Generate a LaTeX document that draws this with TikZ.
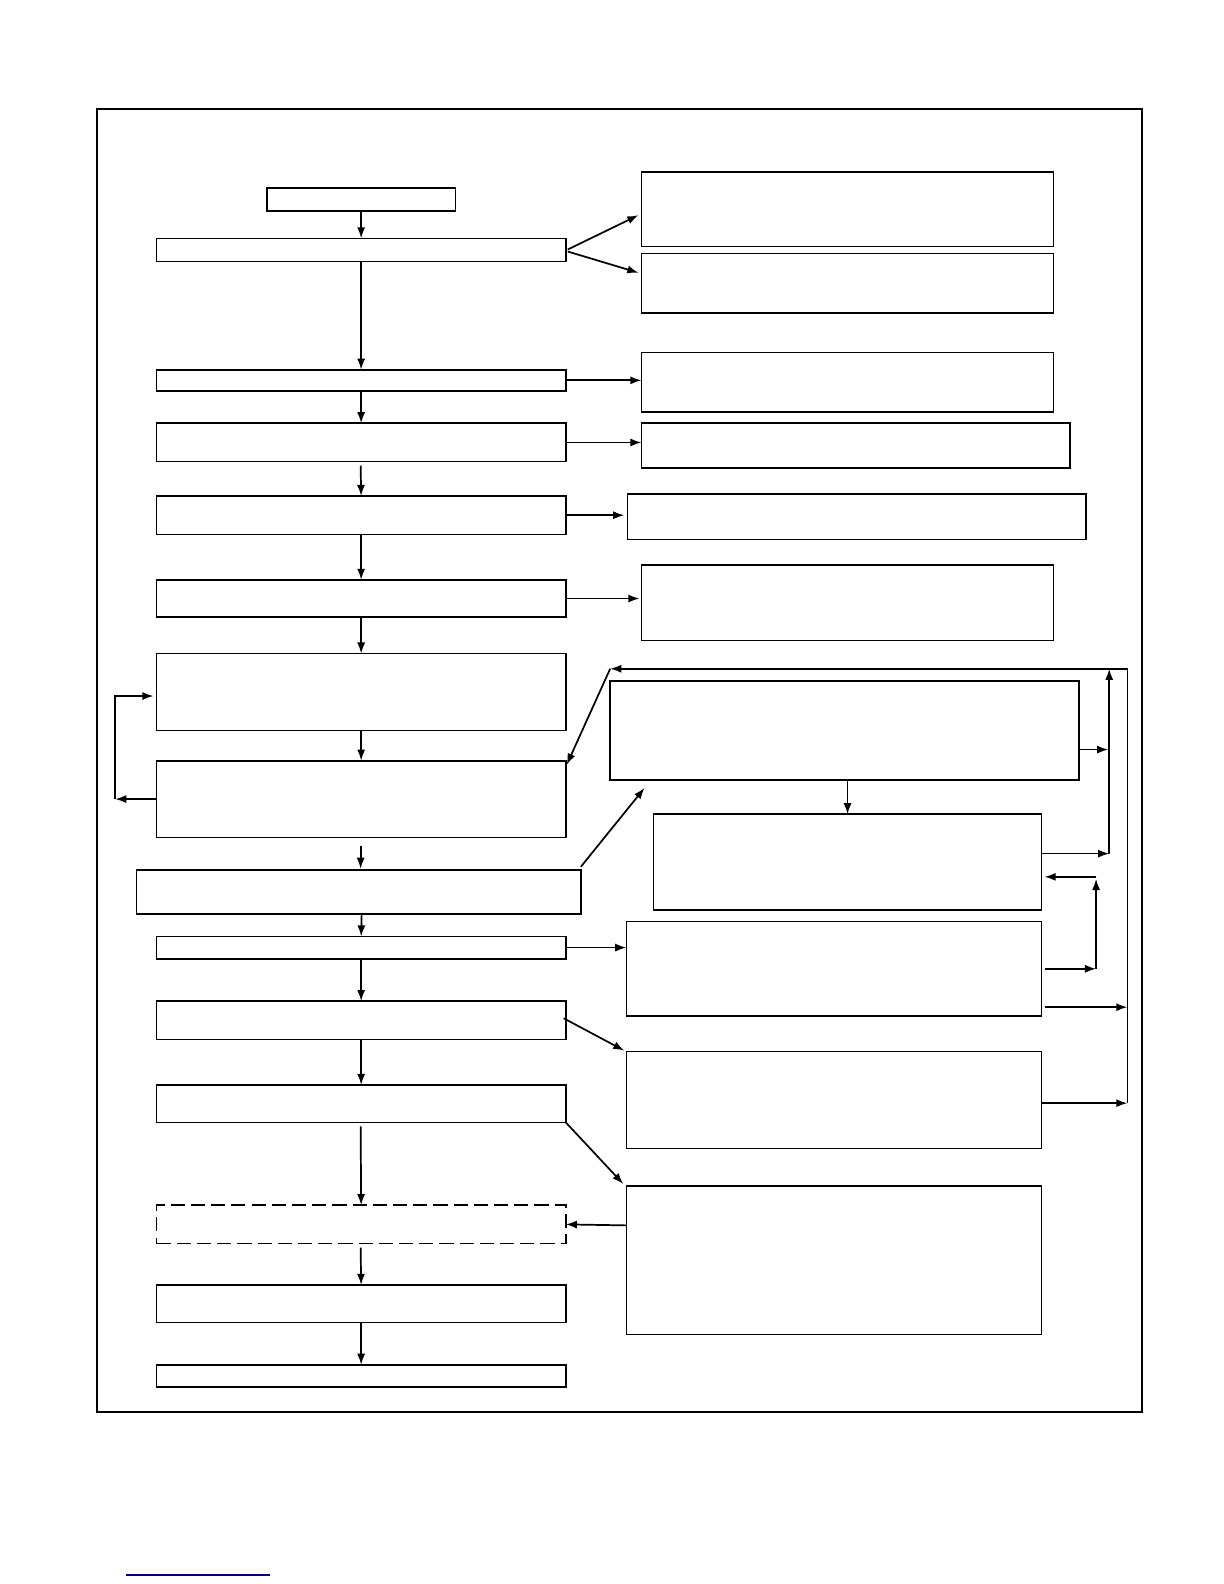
\documentclass[tikz,border=0pt]{standalone}
\usetikzlibrary{arrows.meta}
\tikzset{bx/.style={draw,line width=1.6pt,inner sep=0pt,outer sep=0pt},
 ar/.style={line width=1.7pt,-{Latex[length=11pt,width=8pt]}},
 ln/.style={line width=1.6pt}}
\newcommand\bx[6][]{\node[bx,#1,minimum width={#5-#3},minimum height={#6-#4}] (#2) at ({(#3+#5)/2},{(#4+#6)/2}) {};}
\begin{document}
\begin{tikzpicture}[x=1pt,y=-1pt]
\useasboundingbox (0,0) rectangle (1211.6,1568);
\draw[line width=2pt] (96,108) rectangle (1130,1398);
\draw[line width=1.5pt,blue!50!black] (125,1559) -- (267,1559);
\bx{L0}{264}{186}{451}{209}
\bx{L1}{155}{236}{560}{259}
\bx{L2}{155}{366}{560}{387}
\bx{L3}{155}{419}{560}{457}
\bx{L4}{155}{491}{560}{529}
\bx{L5}{155}{574}{560}{611}
\bx{L6}{155}{647}{560}{723}
\bx{L7}{155}{753}{560}{829}
\bx{L8}{135}{861}{575}{905}
\bx{L9}{155}{927}{560}{949}
\bx{L10}{155}{991}{560}{1029}
\bx{L11}{155}{1074}{560}{1111}
\bx[dashed,dash pattern=on 14pt off 6pt]{L12}{155}{1193}{560}{1231}
\bx{L13}{155}{1272}{560}{1309}
\bx{L14}{155}{1351}{560}{1373}
\bx{R1}{635}{170}{1043}{244}
\bx{R2}{635}{251}{1043}{310}
\bx{R3}{635}{349}{1043}{408}
\bx{R4}{635}{419}{1059}{463}
\bx{R5}{621}{489}{1075}{534}
\bx{R6}{635}{559}{1043}{634}
\bx{R7}{604}{674}{1068}{772}
\bx{R8}{647}{806}{1031}{901}
\bx{R9}{620}{912}{1031}{1006}
\bx{R10}{620}{1041}{1031}{1137}
\bx{R11}{620}{1174}{1031}{1321}
\coordinate (t1) at (1116,662); \coordinate (t0) at (604,662);
\coordinate (c1) at (1098,662); \coordinate (c2) at (1098,845);
\coordinate (d1) at (1085,868); \coordinate (d2) at (1085,959);
\coordinate (e1) at (1116,997); \coordinate (e2) at (1116,1092);
\coordinate (f1) at (114,791); \coordinate (f2) at (114,689);
\draw[ar] (L0.south) -- (L1.north);
\draw[ar] (562,247) -- (632,213);
\draw[ar] (562,249) -- (632,270);
\draw[ar] (L1.south) -- (L2.north);
\draw[ar] (L2.east) -- (R3.west|-L2.east);
\draw[ar] (L2.south) -- (L3.north);
\draw[ar] (L3.east) -- (R4.west|-L3.east);
\draw[ar] (357,461) -- (L4.north);
\draw[ar] (L4.east) -- ([xshift=-3pt]R5.west|-L4.east);
\draw[ar] (L4.south) -- (L5.north);
\draw[ar] (L5.east) -- ([xshift=-2pt]R6.west|-L5.east);
\draw[ar] (L5.south) -- (L6.north);
\draw[ar] (L6.south) -- (L7.north);
\draw[ar] (L7.west) -- (f1);
\draw[ar] (f1) -- (f2) -- (152,689);
\draw[ar] (e2) -- (t1) -- (t0);
\draw[ar] (t0) -- (561,757);
\draw[ar] (R7.east|-0,742) -- (1097,742);
\draw[ar] (839,772) -- (839,806);
\draw[ar] (357,837) -- (357,860);
\draw[ar] (575,858) -- (638,780);
\draw[ar] (358,905) -- (L9.north);
\draw[ar] (L9.east) -- (R9.west|-L9.east);
\draw[ar] (L9.south) -- (L10.north);
\draw[ar] (1031,845) -- (c2);
\draw[ar] (c2) -- (c1);
\draw[ar] (d1) -- (1034,868);
\draw[ar] (1034,959) -- (d2);
\draw[ar] (d2) -- (1085,870);
\draw[ar] (1034,997) -- (e1);
\draw[ar] (1031,1092) -- (e2);
\draw[ar] (558,1008) -- (618,1040);
\draw[ar] (L10.south) -- (L11.north);
\draw[ar] (560,1111) -- (617,1172);
\draw[ar] (357,1115) -- (L12.north);
\draw[ar] (R11.west|-0,1213) -- (L12.east);
\draw[ar] (357,1235) -- (L13.north);
\draw[ar] (L13.south) -- (L14.north);
\end{tikzpicture}
\end{document}
